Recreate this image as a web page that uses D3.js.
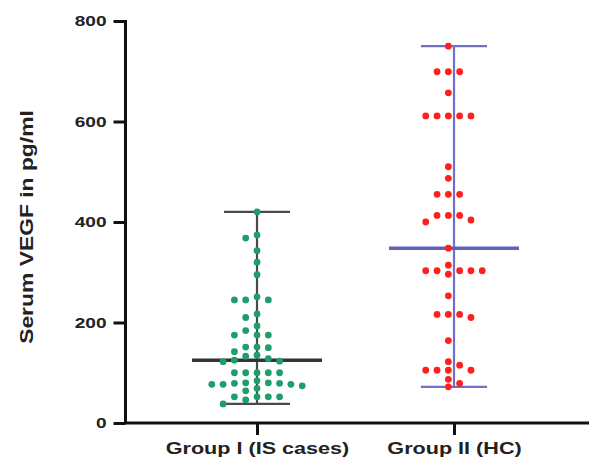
<!DOCTYPE html>
<html><head><meta charset="utf-8">
<script src="https://cdn.jsdelivr.net/npm/d3@7"></script>
<style>body{margin:0;background:#fff}svg{display:block}text{font-family:"Liberation Sans",Arial,sans-serif;font-weight:bold;fill:#222}</style>
</head><body><svg id="c" width="589" height="462"></svg>
<script>
const categories = ["Group I (IS cases)", "Group II (HC)"];
const groupI = [420,374,368,343,320,295,251,245,245,245,217,210,193,184,175,175,175,151,151,150,142,135,133,128,125,123,122,100,100,100,100,100,84,80,80,79,79,77,77,77,74,69,64,52,52,52,52,46,38];
const groupII = [750,699,699,699,657,611,611,611,611,611,510,487,455,455,455,413,413,413,404,400,348,314,303,303,303,303,303,296,253,216,216,216,210,164,122,115,105,105,105,105,87,79,72];
const medians = [125, 348];
const yTicks = [0,200,400,600,800];
const seriesValues = [groupI, groupII];

const svg = d3.select("#c");
const y = d3.scaleLinear().domain([0,800]).range([423,21]);
const x = d3.scalePoint().domain(categories).range([257,454]);
const pointColors = ["#1f9e6c","#ff1f1f"];
const lineColors = ["#4a4a4a","#7070c4"];
const medianColors = ["#333333","#6262b8"];
const gridShift = [0, 0.5];
const stretch = 1.27;
function widen(sel){ sel.each(function(){ const w=this.getComputedTextLength(); d3.select(this).attr("textLength",w*stretch).attr("lengthAdjust","spacingAndGlyphs"); }); }

// axes
const yAxis = svg.append("g").attr("transform","translate(125.5,0)")
  .call(d3.axisLeft(y).tickValues(yTicks).tickSize(12).tickPadding(7).tickSizeOuter(0));
yAxis.select(".domain").attr("d","M0,20V423").attr("stroke","#111").attr("stroke-width",3);
yAxis.selectAll(".tick line").attr("stroke","#111").attr("stroke-width",3);
yAxis.selectAll(".tick text").attr("font-size",15).attr("fill","#222").attr("font-family","Liberation Sans, Arial").attr("font-weight","bold").call(widen);

const xAxis = svg.append("g").attr("transform","translate(0,423)")
  .call(d3.axisBottom(x).tickSize(12).tickPadding(7).tickSizeOuter(0));
xAxis.select(".domain").attr("d","M124,0H589").attr("stroke","#111").attr("stroke-width",3);
xAxis.selectAll(".tick line").attr("stroke","#111").attr("stroke-width",3);
xAxis.selectAll(".tick text").attr("font-size",17).attr("fill","#222").attr("font-family","Liberation Sans, Arial").attr("font-weight","bold").call(widen);

svg.append("text").attr("transform","translate(33,227) rotate(-90)")
  .attr("text-anchor","middle").attr("font-size",18).text("Serum VEGF in pg/ml").call(widen);

// range + median lines
categories.forEach((c,i)=>{
  const vals = seriesValues[i];
  const cx = x(c);
  const mn = d3.min(vals), mx = d3.max(vals);
  const g = svg.append("g");
  g.append("line").attr("x1",cx).attr("x2",cx).attr("y1",y(mn)).attr("y2",y(mx))
    .attr("stroke",lineColors[i]).attr("stroke-width",2.2);
  [mn,mx].forEach(v=>g.append("line").attr("x1",cx-33).attr("x2",cx+33).attr("y1",y(v)).attr("y2",y(v))
    .attr("stroke",lineColors[i]).attr("stroke-width",2.2));
  g.append("line").attr("x1",cx-65).attr("x2",cx+65).attr("y1",y(medians[i])).attr("y2",y(medians[i]))
    .attr("stroke",medianColors[i]).attr("stroke-width",3.5);
});

// beeswarm points on a horizontal grid
const r = 3.4, step = 11.3, minD = 7.2;
categories.forEach((c,i)=>{
  const cx = x(c);
  const slots = d3.range(-8,9).map(m=>m+gridShift[i]).sort((a,b)=>Math.abs(a)-Math.abs(b)||a-b);
  const placed = [];
  const sorted = seriesValues[i].slice().sort((a,b)=>b-a);
  sorted.forEach(v=>{
    const py = y(v);
    for(const m of slots){
      const px = cx + m*step;
      if(placed.every(p=>Math.hypot(p[0]-px,p[1]-py)>=minD)){placed.push([px,py]);break;}
    }
  });
  svg.append("g").selectAll("circle").data(placed).join("circle")
    .attr("cx",d=>d[0]).attr("cy",d=>d[1]).attr("r",r).attr("fill",pointColors[i]);
});
</script></body></html>
